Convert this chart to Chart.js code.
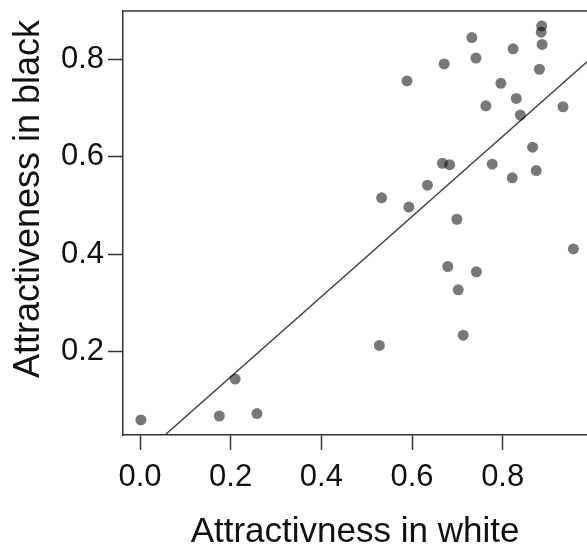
<!DOCTYPE html>
<html>
<head>
<meta charset="utf-8">
<script src="https://cdn.jsdelivr.net/npm/chart.js@4/dist/chart.umd.min.js"></script>
<style>
  body { margin: 0; background: #fff; }
  #wrap { width: 587px; height: 550px; }
</style>
</head>
<body>
<div id="wrap"><canvas id="myChart"></canvas></div>
<script>
// points (white vs black attractiveness)
const whiteVals = [0.886, 0.885, 0.887, 0.732, 0.823, 0.741, 0.671, 0.881, 0.589, 0.796,
  0.830, 0.763, 0.933, 0.839, 0.866, 0.667, 0.683, 0.777, 0.874, 0.821,
  0.634, 0.533, 0.593, 0.699, 0.956, 0.679, 0.742, 0.702, 0.713, 0.528,
  0.210, 0.258, 0.175, 0.002];
const blackVals = [0.869, 0.856, 0.831, 0.845, 0.822, 0.803, 0.791, 0.780, 0.756, 0.751,
  0.720, 0.705, 0.703, 0.686, 0.620, 0.587, 0.584, 0.585, 0.572, 0.557,
  0.542, 0.516, 0.497, 0.472, 0.411, 0.375, 0.364, 0.327, 0.234, 0.213,
  0.144, 0.073, 0.068, 0.060];

// fitted line, two ends as seen in the picture
const fitX = [0.055, 0.986];
const fitY = [0.029, 0.7955];

const xTicks = [0, 0.2, 0.4, 0.6, 0.8];
const yTicks = [0.2, 0.4, 0.6, 0.8];

const xTitle = "Attractivness in white";
const yTitle = "Attractiveness in black";

const fontFamily = "'Liberation Sans', Arial, Helvetica, sans-serif";
const axisColor = "#333";

// top edge of the box (right edge is outside the picture) + y title,
// which sits a bit above the middle of the plot in the original
const extras = {
  id: "extras",
  afterDraw(chart) {
    const { ctx, chartArea } = chart;
    ctx.save();
    ctx.strokeStyle = axisColor;
    ctx.lineWidth = 1.5;
    ctx.beginPath();
    ctx.moveTo(chartArea.left, chartArea.top);
    ctx.lineTo(chartArea.right, chartArea.top);
    ctx.stroke();

    ctx.translate(29, (chartArea.top + chartArea.bottom) / 2 - 24);
    ctx.rotate(-Math.PI / 2);
    ctx.fillStyle = "#111";
    ctx.font = "36px " + fontFamily;
    ctx.textAlign = "center";
    ctx.textBaseline = "middle";
    ctx.fillText(yTitle, 0, 0);
    ctx.restore();
  },
};

const ctx = document.getElementById("myChart");
new Chart(ctx, {
  type: "scatter",
  data: {
    datasets: [
      {
        data: whiteVals.map((x, i) => ({ x, y: blackVals[i] })),
        backgroundColor: "rgba(0, 0, 0, 0.53)",
        borderWidth: 0,
        pointRadius: 5.5,
        pointHoverRadius: 5.5,
      },
      {
        type: "line",
        data: fitX.map((x, i) => ({ x, y: fitY[i] })),
        borderColor: "#444",
        borderWidth: 1.5,
        pointRadius: 0,
        fill: false,
      },
    ],
  },
  options: {
    responsive: true,
    maintainAspectRatio: false,
    animation: false,
    layout: { autoPadding: false, padding: { top: 11, right: 0, left: 0, bottom: 0 } },
    plugins: { legend: { display: false }, tooltip: { enabled: false } },
    scales: {
      x: {
        type: "linear",
        min: -0.0375,
        max: 0.986,
        afterBuildTicks: (scale) => {
          scale.ticks = xTicks.map((v) => ({ value: v }));
        },
        afterFit: (scale) => {
          scale.height = 115;
          scale.paddingLeft = 0;
          scale.paddingRight = 0;
        },
        grid: {
          drawOnChartArea: false,
          tickLength: 15,
          tickWidth: 1.5,
          tickColor: axisColor,
        },
        border: { display: true, color: axisColor, width: 1.5 },
        ticks: {
          padding: 9,
          color: "#111",
          font: { family: fontFamily, size: 31 },
          callback: (value) => value.toFixed(1),
        },
        title: {
          display: true,
          text: xTitle,
          color: "#111",
          font: { family: fontFamily, size: 35, lineHeight: 1 },
          padding: { top: 0, bottom: 0 },
        },
      },
      y: {
        type: "linear",
        min: 0.029,
        max: 0.8996,
        afterBuildTicks: (scale) => {
          scale.ticks = yTicks.map((v) => ({ value: v }));
        },
        afterFit: (scale) => {
          scale.width = 123;
          scale.paddingTop = 0;
          scale.paddingBottom = 0;
        },
        grid: {
          drawOnChartArea: false,
          tickLength: 15,
          tickWidth: 1.5,
          tickColor: axisColor,
        },
        border: { display: true, color: axisColor, width: 1.5 },
        ticks: {
          padding: 4,
          color: "#111",
          font: { family: fontFamily, size: 31 },
          callback: (value) => value.toFixed(1),
        },
      },
    },
  },
  plugins: [extras],
});
</script>
</body>
</html>
